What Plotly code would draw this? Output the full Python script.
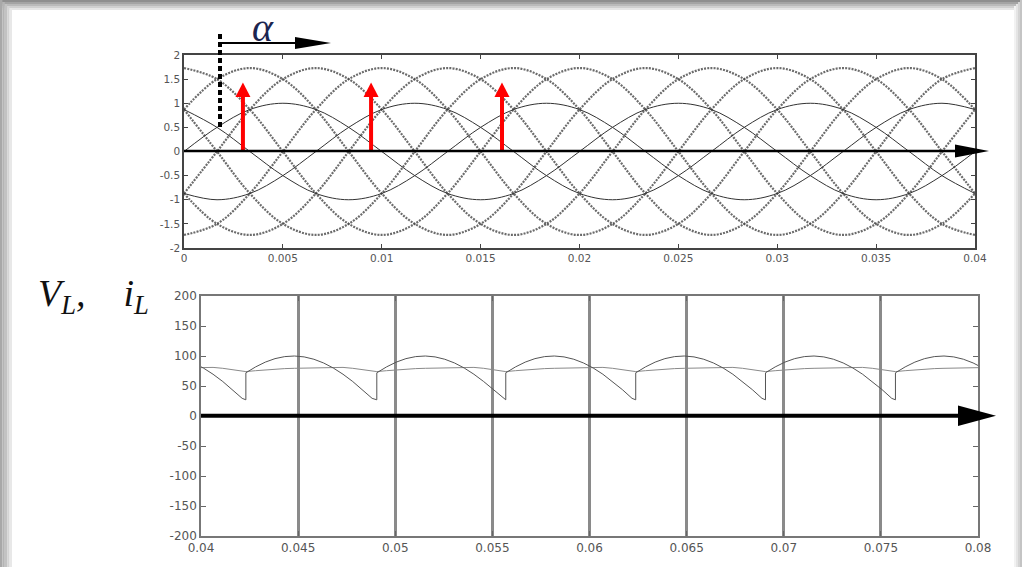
import plotly.graph_objects as go

# ---------------- data: top panel (source voltages, p.u.) ----------------
t_top = [0, 0.00167, 0.00333, 0.005, 0.00667, 0.00833, 0.01, 0.01167, 0.01333,
         0.015, 0.01667, 0.01833, 0.02, 0.02167, 0.02333, 0.025, 0.02667,
         0.02833, 0.03, 0.03167, 0.03333, 0.035, 0.03667, 0.03833, 0.04]

v_ab = [0.87, 1.5, 1.73, 1.5, 0.87, 0, -0.87, -1.5, -1.73, -1.5, -0.87, 0,
        0.87, 1.5, 1.73, 1.5, 0.87, 0, -0.87, -1.5, -1.73, -1.5, -0.87, 0, 0.87]
v_ba = [-0.87, -1.5, -1.73, -1.5, -0.87, 0, 0.87, 1.5, 1.73, 1.5, 0.87, 0,
        -0.87, -1.5, -1.73, -1.5, -0.87, 0, 0.87, 1.5, 1.73, 1.5, 0.87, 0, -0.87]
v_bc = [-1.73, -1.5, -0.87, 0, 0.87, 1.5, 1.73, 1.5, 0.87, 0, -0.87, -1.5,
        -1.73, -1.5, -0.87, 0, 0.87, 1.5, 1.73, 1.5, 0.87, 0, -0.87, -1.5, -1.73]
v_cb = [1.73, 1.5, 0.87, 0, -0.87, -1.5, -1.73, -1.5, -0.87, 0, 0.87, 1.5,
        1.73, 1.5, 0.87, 0, -0.87, -1.5, -1.73, -1.5, -0.87, 0, 0.87, 1.5, 1.73]
v_ca = [0.87, 0, -0.87, -1.5, -1.73, -1.5, -0.87, 0, 0.87, 1.5, 1.73, 1.5,
        0.87, 0, -0.87, -1.5, -1.73, -1.5, -0.87, 0, 0.87, 1.5, 1.73, 1.5, 0.87]
v_ac = [-0.87, 0, 0.87, 1.5, 1.73, 1.5, 0.87, 0, -0.87, -1.5, -1.73, -1.5,
        -0.87, 0, 0.87, 1.5, 1.73, 1.5, 0.87, 0, -0.87, -1.5, -1.73, -1.5, -0.87]

v_a = [0, 0.5, 0.87, 1, 0.87, 0.5, 0, -0.5, -0.87, -1, -0.87, -0.5,
       0, 0.5, 0.87, 1, 0.87, 0.5, 0, -0.5, -0.87, -1, -0.87, -0.5, 0]
v_b = [-0.87, -1, -0.87, -0.5, 0, 0.5, 0.87, 1, 0.87, 0.5, 0, -0.5,
       -0.87, -1, -0.87, -0.5, 0, 0.5, 0.87, 1, 0.87, 0.5, 0, -0.5, -0.87]
v_c = [0.87, 0.5, 0, -0.5, -0.87, -1, -0.87, -0.5, 0, 0.5, 0.87, 1,
       0.87, 0.5, 0, -0.5, -0.87, -1, -0.87, -0.5, 0, 0.5, 0.87, 1, 0.87]

firing_times = [0.00298, 0.00946, 0.01608]
firing_arrow_top = 1.43

top_xticks = [0, 0.005, 0.01, 0.015, 0.02, 0.025, 0.03, 0.035, 0.04]
top_xlabels = ["0", "0.005", "0.01", "0.015", "0.02", "0.025", "0.03", "0.035", "0.04"]
top_yticks = [-2, -1.5, -1, -0.5, 0, 0.5, 1, 1.5, 2]
top_ylabels = ["-2", "-1.5", "-1", "-0.5", "0", "0.5", "1", "1.5", "2"]

# ---------------- data: bottom panel (load voltage / current) ----------------
jump_times = [0.03562, 0.04231, 0.04905, 0.05569, 0.06238, 0.06906, 0.07575, 0.08244]
seg_offsets_ms = [0, 0.5, 1.0, 1.5, 2.0, 2.5, 3.0, 3.5, 4.0, 4.5, 5.0, 5.5, 6.0, 6.5]
vL_profile = [72, 81.8, 89.8, 95.6, 99.0, 100, 98.5, 94.6, 88.4, 80.0, 69.6, 57.5, 44.0, 29.4]
vL_end = 27
iL_profile = [74, 75.5, 77, 78, 79, 79.5, 80, 80.5, 81, 81.5, 81, 79.5, 77.5, 75]
iL_end = 74

bot_xticks = [0.04, 0.045, 0.05, 0.055, 0.06, 0.065, 0.07, 0.075, 0.08]
bot_xlabels = ["0.04", "0.045", "0.05", "0.055", "0.06", "0.065", "0.07", "0.075", "0.08"]
bot_yticks = [-200, -150, -100, -50, 0, 50, 100, 150, 200]
bot_ylabels = ["-200", "-150", "-100", "-50", "0", "50", "100", "150", "200"]

# build piecewise waveforms from the read segment profile
vL_t, vL_v, iL_t, iL_v = [], [], [], []
for j0, j1 in zip(jump_times[:-1], jump_times[1:]):
    for off, vv, ii in zip(seg_offsets_ms, vL_profile, iL_profile):
        vL_t.append(j0 + off / 1000.0); vL_v.append(vv)
        iL_t.append(j0 + off / 1000.0); iL_v.append(ii)
    vL_t.append(j1); vL_v.append(vL_end)
    iL_t.append(j1); iL_v.append(iL_end)

W, H = 1022, 567
def px(x): return x / W
def py(y): return 1 - y / H

fig = go.Figure()

line_style = dict(color="rgba(70,70,70,0.8)", width=2.2, dash="2px,1.2px", shape="spline", smoothing=1)
for v in [v_ab, v_ba, v_bc, v_cb, v_ca, v_ac]:
    fig.add_trace(go.Scatter(x=t_top, y=v, mode="lines", line=line_style,
                             xaxis="x", yaxis="y", showlegend=False, hoverinfo="skip"))
phase_style = dict(color="#333333", width=1, shape="spline", smoothing=1)
for v in [v_a, v_b, v_c]:
    fig.add_trace(go.Scatter(x=t_top, y=v, mode="lines", line=phase_style,
                             xaxis="x", yaxis="y", showlegend=False, hoverinfo="skip"))

fig.add_trace(go.Scatter(x=iL_t, y=iL_v, mode="lines", line=dict(color="#8a8a8a", width=1),
                         xaxis="x2", yaxis="y2", showlegend=False, hoverinfo="skip"))
fig.add_trace(go.Scatter(x=vL_t, y=vL_v, mode="lines", line=dict(color="#555555", width=1),
                         xaxis="x2", yaxis="y2", showlegend=False, hoverinfo="skip"))

tickfont_top = dict(family="DejaVu Sans", size=10.5, color="#555555")
tickfont_bot = dict(family="DejaVu Sans", size=12, color="#555555")

fig.update_layout(
    width=W, height=H, margin=dict(l=0, r=0, t=0, b=0),
    paper_bgcolor="white", plot_bgcolor="white", template="none", showlegend=False,
    xaxis=dict(domain=[px(184), px(975)], range=[0, 0.04], anchor="y",
               tickvals=top_xticks, ticktext=top_xlabels, ticks="inside", ticklen=4,
               tickcolor="#444", showline=True, linecolor="#444", linewidth=1.5,
               mirror="ticks", showgrid=False, zeroline=False, tickfont=tickfont_top),
    yaxis=dict(domain=[py(248), py(55)], range=[-2, 2], anchor="x",
               tickvals=top_yticks, ticktext=top_ylabels, ticks="inside", ticklen=4,
               tickcolor="#444", showline=True, linecolor="#444", linewidth=1.5,
               mirror="ticks", showgrid=False, zeroline=False, tickfont=tickfont_top),
    xaxis2=dict(domain=[px(201), px(978)], range=[0.04, 0.08], anchor="y2",
                tickvals=bot_xticks, ticktext=bot_xlabels, ticks="inside", ticklen=5,
                tickcolor="#666", showline=True, linecolor="#777", linewidth=1.5,
                mirror="ticks", showgrid=True, gridcolor="#8a8a8a", gridwidth=3,
                zeroline=False, tickfont=tickfont_bot),
    yaxis2=dict(domain=[py(536), py(296)], range=[-200, 200], anchor="x2",
                tickvals=bot_yticks, ticktext=bot_ylabels, ticks="inside", ticklen=5,
                tickcolor="#666", showline=True, linecolor="#777", linewidth=1.5,
                mirror="ticks", showgrid=False, zeroline=False, tickfont=tickfont_bot),
)

shapes = []
# frame shading (drawn first, below everything else)
for i, c in enumerate(["#8f8f8f", "#a4a4a4", "#bababa", "#d0d0d0", "#e6e6e6"]):
    shapes.append(dict(type="rect", xref="paper", yref="paper", x0=0, x1=1,
                       y0=py(2 * i + 2), y1=py(2 * i), fillcolor=c, line=dict(width=0), layer="below"))
for i, c in enumerate(["#a8a8a8", "#b4b4b4", "#c2c2c2", "#d4d4d4", "#e8e8e8"]):
    shapes.append(dict(type="rect", xref="paper", yref="paper", x0=px(2.4 * i), x1=px(2.4 * i + 2.4),
                       y0=0, y1=py(2 * i), fillcolor=c, line=dict(width=0), layer="below"))
for i, c in enumerate(["#c4c4c4", "#d4d4d4", "#e4e4e4", "#f2f2f2"]):
    shapes.append(dict(type="rect", xref="paper", yref="paper", x0=px(W - 2 * i - 2), x1=px(W - 2 * i),
                       y0=0, y1=py(2 * i), fillcolor=c, line=dict(width=0), layer="below"))
# red firing arrows (shaft + head) at the read firing instants
head_h = 0.30      # head length in y units
head_w = 0.00038   # half head width in x units
for tf in firing_times:
    shapes.append(dict(type="line", xref="x", yref="y", x0=tf, x1=tf, y0=0,
                       y1=firing_arrow_top - head_h + 0.02, line=dict(color="#ff0000", width=4)))
    shapes.append(dict(type="path", xref="x", yref="y",
                       path=f"M {tf - head_w},{firing_arrow_top - head_h} L {tf},{firing_arrow_top} "
                            f"L {tf + head_w},{firing_arrow_top - head_h} Z",
                       fillcolor="#ff0000", line=dict(color="#ff0000", width=0)))
# horizontal time-axis arrows
shapes.append(dict(type="line", xref="paper", yref="paper", x0=px(184), x1=px(960),
                   y0=py(151), y1=py(151), line=dict(color="black", width=2.5)))
shapes.append(dict(type="path", xref="paper", yref="paper",
                   path=f"M {px(955)},{py(144.5)} L {px(989)},{py(151)} L {px(955)},{py(157.5)} Z",
                   fillcolor="black", line=dict(color="black", width=0)))
shapes.append(dict(type="line", xref="paper", yref="paper", x0=px(201), x1=px(962),
                   y0=py(415.7), y1=py(415.7), line=dict(color="black", width=4)))
shapes.append(dict(type="path", xref="paper", yref="paper",
                   path=f"M {px(958)},{py(405.5)} L {px(996)},{py(415.7)} L {px(958)},{py(426)} Z",
                   fillcolor="black", line=dict(color="black", width=0)))
# alpha marker
shapes.append(dict(type="line", xref="paper", yref="paper", x0=px(220), x1=px(220),
                   y0=py(34), y1=py(127), line=dict(color="black", width=4, dash="5px,3px")))
shapes.append(dict(type="line", xref="paper", yref="paper", x0=px(222), x1=px(300),
                   y0=py(43), y1=py(43), line=dict(color="black", width=2)))
shapes.append(dict(type="path", xref="paper", yref="paper",
                   path=f"M {px(295)},{py(37)} L {px(331)},{py(43)} L {px(295)},{py(49)} Z",
                   fillcolor="black", line=dict(color="black", width=0)))
fig.update_layout(shapes=shapes)

annotations = []
annotations.append(dict(x=px(263), y=py(27), xref="paper", yref="paper", showarrow=False,
                        text="<i>α</i>", font=dict(family="Liberation Serif", size=40, color="#1c2550"),
                        xanchor="center", yanchor="middle"))
annotations.append(dict(x=px(36), y=py(296), xref="paper", yref="paper", showarrow=False,
                        text="<i>V</i><sub><i>L</i></sub><i>,&nbsp;&nbsp;&nbsp;&nbsp;i</i><sub><i>L</i></sub>",
                        font=dict(family="Liberation Serif", size=38, color="#111111"),
                        xanchor="left", yanchor="middle"))
fig.update_layout(annotations=annotations)

fig.write_html("out.html", config={"displayModeBar": False},
               post_script="document.body.style.margin='0';document.body.style.padding='0';")
